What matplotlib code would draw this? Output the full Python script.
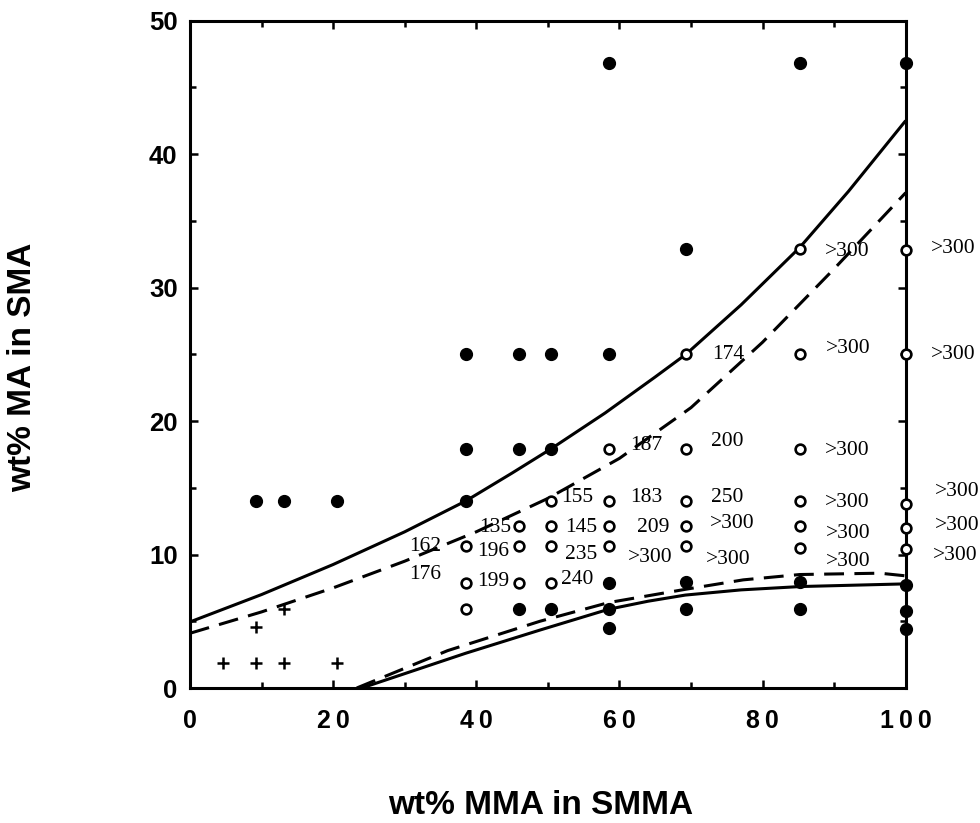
import matplotlib
matplotlib.use("Agg")
import matplotlib.pyplot as plt
from matplotlib.ticker import MultipleLocator

# ---- data ----
filled_x = [9.2, 13.1, 20.6,
            38.5, 45.9, 50.4, 58.6,
            38.5, 45.9, 50.4,
            38.5,
            45.9, 50.4,
            58.6, 85.2, 100,
            69.3,
            58.6, 58.6, 58.6,
            69.3, 69.3,
            85.2, 85.2,
            100, 100, 100]
filled_y = [14.0, 14.0, 14.0,
            25.0, 25.0, 25.0, 25.0,
            17.9, 17.9, 17.9,
            14.0,
            5.9, 5.9,
            46.8, 46.8, 46.8,
            32.9,
            7.9, 5.9, 4.5,
            7.95, 5.9,
            7.95, 5.9,
            7.7, 5.8, 4.4]

open_x = [38.5, 38.5, 38.5,
          45.9, 45.9, 45.9,
          50.4, 50.4, 50.4, 50.4,
          58.6, 58.6, 58.6, 58.6,
          69.3, 69.3, 69.3, 69.3, 69.3,
          85.2, 85.2, 85.2, 85.2, 85.2, 85.2,
          100, 100, 100, 100, 100]
open_y = [5.9, 10.6, 7.9,
          12.1, 10.6, 7.9,
          14.0, 12.1, 10.6, 7.9,
          17.9, 14.0, 12.1, 10.6,
          25.0, 17.9, 14.0, 12.1, 10.6,
          32.9, 25.0, 17.9, 14.0, 12.1, 10.5,
          32.8, 25.0, 13.8, 12.0, 10.4]

plus_x = [4.6, 9.2, 13.1, 20.6, 9.2, 13.1]
plus_y = [1.9, 1.9, 1.9, 1.9, 4.6, 5.9]

upper_solid_x = [0, 10, 20, 30, 38.5, 45, 50.4, 58, 65, 69.3, 77, 85.2, 92, 100]
upper_solid_y = [4.95, 7.0, 9.25, 11.7, 14.0, 16.1, 17.9, 20.6, 23.3, 25.0, 28.7, 33.0, 37.2, 42.5]

upper_dash_x = [0, 10, 20, 30, 40, 50, 60, 70, 80, 90, 100]
upper_dash_y = [4.1, 5.7, 7.5, 9.5, 11.7, 14.2, 17.2, 21.0, 25.9, 31.4, 37.1]

lower_solid_x = [24.0, 38.5, 48.9, 58.5, 64.0, 69.2, 77.0, 85.3, 100]
lower_solid_y = [0.0, 2.6, 4.34, 5.9, 6.5, 6.96, 7.35, 7.6, 7.8]

lower_dash_x = [23.3, 36.0, 48.9, 58.5, 69.3, 77.3, 85.2, 96.4, 100]
lower_dash_y = [0.0, 2.8, 5.0, 6.4, 7.4, 8.1, 8.5, 8.6, 8.4]

label_text = ["187", "155", "183", "135", "145", "209",
              "162", "196", "235", ">300", "176", "199", "240",
              ">300", ">300", "174", ">300", ">300",
              "200", ">300", "250", ">300", ">300",
              ">300", ">300", ">300",
              ">300", ">300", ">300"]
label_x = [63.8, 54.1, 63.8, 42.6, 54.7, 64.7,
           32.8, 42.3, 54.7, 64.3, 32.8, 42.3, 54.1,
           91.8, 106.6, 75.2, 92.0, 106.6,
           75.0, 91.8, 75.0, 91.8, 107.2,
           75.7, 92.0, 107.2,
           75.2, 92.0, 106.9]
label_y = [18.2, 14.3, 14.3, 12.0, 12.0, 12.0,
           10.6, 10.2, 10.0, 9.8, 8.5, 8.0, 8.1,
           32.7, 32.9, 25.0, 25.4, 25.0,
           18.5, 17.8, 14.3, 13.9, 14.7,
           12.3, 11.6, 12.2,
           9.6, 9.5, 9.9]

x_ticks = [0, 20, 40, 60, 80, 100]
y_ticks = [0, 10, 20, 30, 40, 50]

# ---- figure ----
W, H = 980, 823
fig = plt.figure(figsize=(W / 100, H / 100), dpi=100)
ax = fig.add_axes([190 / W, 1 - 688 / H, (905.7 - 190) / W, (688 - 20.5) / H])

ax.set_xlim(0, 100)
ax.set_ylim(0, 50)

lw = 2.2
dash = (6.5, 3.4)
ax.plot(upper_solid_x, upper_solid_y, color="black", lw=lw, solid_capstyle="butt",
        solid_joinstyle="round", zorder=2)
ax.plot(lower_solid_x, lower_solid_y, color="black", lw=lw, solid_capstyle="butt",
        solid_joinstyle="round", zorder=2)
ax.plot(upper_dash_x, upper_dash_y, color="black", lw=lw, dashes=dash, zorder=2)
ax.plot(lower_dash_x, lower_dash_y, color="black", lw=lw, dashes=dash, zorder=2)

ax.plot(filled_x, filled_y, "o", color="black", ms=8.5, ls="none", zorder=4, clip_on=False)
ax.plot(open_x, open_y, "o", mfc="white", mec="black", mew=1.9, ms=7.0, ls="none",
        zorder=5, clip_on=False)
ax.plot(plus_x, plus_y, "+", color="black", ms=8.5, mew=1.8, ls="none", zorder=4)

for t, x, y in zip(label_text, label_x, label_y):
    ax.text(x, y, t, ha="center", va="center", fontsize=15.5,
            family="Liberation Serif", clip_on=False, zorder=6)

for s in ax.spines.values():
    s.set_linewidth(2.2)

ax.set_xticks(x_ticks)
ax.set_yticks(y_ticks)
ax.set_xticklabels(["\u2009".join(str(v)) for v in x_ticks], fontsize=18,
                   fontweight="bold", family=["Liberation Sans", "DejaVu Sans"])
ax.set_yticklabels([str(v) for v in y_ticks], fontsize=18.5, fontweight="bold",
                   family="Liberation Sans")
ax.xaxis.set_minor_locator(MultipleLocator(10))
ax.yaxis.set_minor_locator(MultipleLocator(5))
ax.tick_params(which="both", direction="in", top=True, right=True, width=1.8)
ax.tick_params(which="major", length=6)
ax.tick_params(which="minor", length=4)
ax.tick_params(axis="x", which="major", pad=15)
ax.tick_params(axis="y", which="major", pad=9)

fig.text(23 / W, 1 - 367 / H, "wt% MA in SMA", rotation=90, ha="center", va="center",
         fontsize=24, fontweight="bold", family="Liberation Sans")
fig.text(541 / W, 1 - 806 / H, "wt% MMA in SMMA", ha="center", va="center",
         fontsize=24, fontweight="bold", family="Liberation Sans")

fig.savefig("out.png", dpi=100)
